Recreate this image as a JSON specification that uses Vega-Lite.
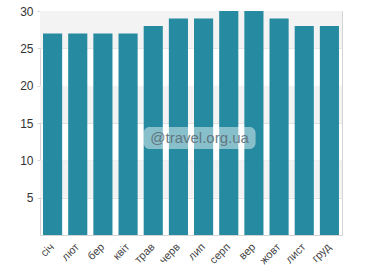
{
  "$schema": "https://vega.github.io/schema/vega-lite/v6.json",
  "autosize": {"type": "none"},
  "padding": {"left": 40, "top": 11, "right": 40, "bottom": 45},
  "width": 302,
  "height": 224,
  "config": {
    "view": {"stroke": "#d4d4d4", "strokeWidth": 1},
    "font": "Liberation Sans"
  },
  "datasets": {
    "months": [
      {"month": "січ", "temp": 27},
      {"month": "лют", "temp": 27},
      {"month": "бер", "temp": 27},
      {"month": "квіт", "temp": 27},
      {"month": "трав", "temp": 28},
      {"month": "черв", "temp": 29},
      {"month": "лип", "temp": 29},
      {"month": "серп", "temp": 30},
      {"month": "вер", "temp": 30},
      {"month": "жовт", "temp": 29},
      {"month": "лист", "temp": 28},
      {"month": "груд", "temp": 28}
    ],
    "bands": [
      {"lo": 25, "hi": 30},
      {"lo": 15, "hi": 20},
      {"lo": 5, "hi": 10}
    ],
    "mark": [
      {"label": "@travel.org.ua", "month": "лип", "temp": 13}
    ]
  },
  "layer": [
    {
      "data": {"name": "bands"},
      "mark": {"type": "rect", "color": "#f3f3f3"},
      "encoding": {
        "y": {"field": "lo", "type": "quantitative", "scale": {"domain": [0, 30], "nice": false}},
        "y2": {"field": "hi"}
      }
    },
    {
      "data": {"name": "months"},
      "mark": {"type": "bar", "color": "#268aa0"},
      "encoding": {
        "x": {
          "field": "month", "type": "nominal",
          "scale": {
            "domain": ["січ", "лют", "бер", "квіт", "трав", "черв", "лип", "серп", "вер", "жовт", "лист", "груд"],
            "paddingInner": 0.24, "paddingOuter": 0.12
          },
          "axis": {
            "title": null, "labelAngle": -45, "labelAlign": "right", "labelBaseline": "middle",
            "labelFontSize": 11, "labelColor": "#444444", "labelPadding": 10,
            "ticks": false, "domain": false, "grid": false
          }
        },
        "y": {
          "field": "temp", "type": "quantitative",
          "scale": {"domain": [0, 30], "nice": false},
          "axis": {
            "title": null, "values": [5, 10, 15, 20, 25, 30],
            "labelFontSize": 12, "labelColor": "#333333", "labelPadding": 4,
            "tickSize": 3, "tickColor": "#d8d8d8", "domain": false,
            "grid": true, "gridColor": "#e2e2e2"
          }
        }
      }
    },
    {
      "data": {"name": "mark"},
      "mark": {"type": "rect", "width": 112, "height": 22, "cornerRadius": 6, "color": "#ffffff", "opacity": 0.45, "xOffset": -4},
      "encoding": {
        "x": {"field": "month", "type": "nominal"},
        "y": {"field": "temp", "type": "quantitative"}
      }
    },
    {
      "data": {"name": "mark"},
      "mark": {"type": "text", "fontSize": 15, "color": "#5f6f78", "dx": -4, "opacity": 0.9},
      "encoding": {
        "x": {"field": "month", "type": "nominal"},
        "y": {"field": "temp", "type": "quantitative"},
        "text": {"field": "label"}
      }
    }
  ]
}
